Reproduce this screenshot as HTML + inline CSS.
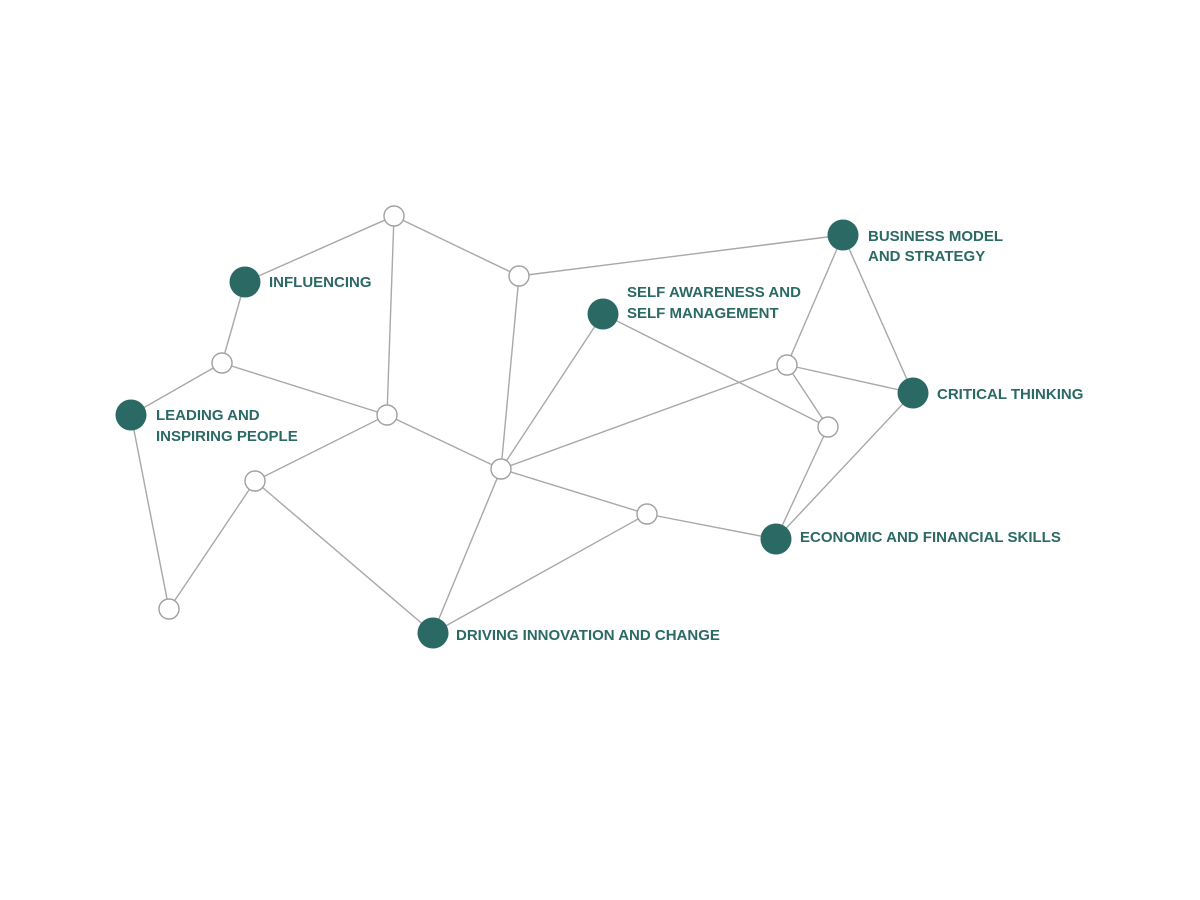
<!DOCTYPE html>
<html><head><meta charset="utf-8"><style>
html,body{margin:0;padding:0;background:#fff;width:1200px;height:900px;overflow:hidden}
text{font-family:"Liberation Sans",sans-serif;font-weight:bold;font-size:15px;fill:#2b6965}
</style></head><body>
<svg width="1200" height="900" viewBox="0 0 1200 900" xmlns="http://www.w3.org/2000/svg">
<g stroke="#a8a8a8" stroke-width="1.4" fill="none">
<line x1="394" y1="216" x2="245" y2="282"/>
<line x1="394" y1="216" x2="519" y2="276"/>
<line x1="394" y1="216" x2="387" y2="415"/>
<line x1="519" y1="276" x2="843" y2="235"/>
<line x1="519" y1="276" x2="501" y2="469"/>
<line x1="245" y1="282" x2="222" y2="363"/>
<line x1="222" y1="363" x2="131" y2="415"/>
<line x1="222" y1="363" x2="387" y2="415"/>
<line x1="131" y1="415" x2="169" y2="609"/>
<line x1="169" y1="609" x2="255" y2="481"/>
<line x1="255" y1="481" x2="387" y2="415"/>
<line x1="255" y1="481" x2="433" y2="633"/>
<line x1="387" y1="415" x2="501" y2="469"/>
<line x1="501" y1="469" x2="603" y2="314"/>
<line x1="501" y1="469" x2="787" y2="365"/>
<line x1="501" y1="469" x2="647" y2="514"/>
<line x1="501" y1="469" x2="433" y2="633"/>
<line x1="433" y1="633" x2="647" y2="514"/>
<line x1="647" y1="514" x2="776" y2="539"/>
<line x1="603" y1="314" x2="828" y2="427"/>
<line x1="787" y1="365" x2="843" y2="235"/>
<line x1="787" y1="365" x2="913" y2="393"/>
<line x1="787" y1="365" x2="828" y2="427"/>
<line x1="828" y1="427" x2="776" y2="539"/>
<line x1="843" y1="235" x2="913" y2="393"/>
<line x1="913" y1="393" x2="776" y2="539"/>
</g>
<g fill="#fff" stroke="#a0a0a0" stroke-width="1.4">
<circle cx="394" cy="216" r="10"/><circle cx="519" cy="276" r="10"/>
<circle cx="222" cy="363" r="10"/><circle cx="387" cy="415" r="10"/>
<circle cx="501" cy="469" r="10"/><circle cx="255" cy="481" r="10"/>
<circle cx="169" cy="609" r="10"/><circle cx="647" cy="514" r="10"/>
<circle cx="787" cy="365" r="10"/><circle cx="828" cy="427" r="10"/>
</g>
<g fill="#2b6965">
<circle cx="245" cy="282" r="15.5"/><circle cx="131" cy="415" r="15.5"/>
<circle cx="603" cy="314" r="15.5"/><circle cx="843" cy="235" r="15.5"/>
<circle cx="913" cy="393" r="15.5"/><circle cx="776" cy="539" r="15.5"/>
<circle cx="433" cy="633" r="15.5"/>
</g>
<text x="269" y="287">INFLUENCING</text>
<text x="156" y="420">LEADING AND</text>
<text x="156" y="441">INSPIRING PEOPLE</text>
<text x="627" y="297">SELF AWARENESS AND</text>
<text x="627" y="318">SELF MANAGEMENT</text>
<text x="868" y="241">BUSINESS MODEL</text>
<text x="868" y="261">AND STRATEGY</text>
<text x="937" y="399">CRITICAL THINKING</text>
<text x="800" y="542">ECONOMIC AND FINANCIAL SKILLS</text>
<text x="456" y="640">DRIVING INNOVATION AND CHANGE</text>
</svg>
</body></html>
